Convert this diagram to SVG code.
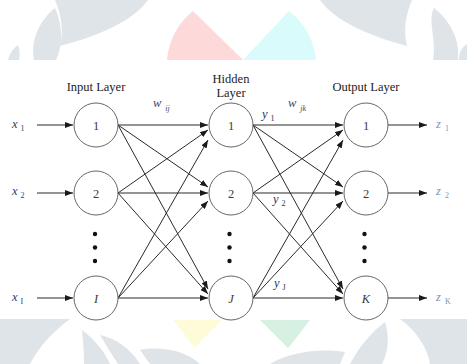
<svg xmlns="http://www.w3.org/2000/svg" width="467" height="364" viewBox="0 0 467 364">
<style>
.wm{fill:#dfe4e9;stroke:none}
.node circle{fill:#fff;stroke:#555;stroke-width:0.9}
.node text{font-family:"Liberation Serif",serif;font-size:12.5px;fill:#3a3a3a;text-anchor:middle}
.title{font-family:"Liberation Serif",serif;font-size:12.5px;fill:#222;text-anchor:middle}
.lbl{font-family:"Liberation Serif",serif;font-size:12.5px;font-style:italic}
.sub{font-size:8px}
.xl{fill:#2f3d6c}
.zl{fill:#7f92b2}
.wl{fill:#3e4665}
.yl{fill:#26335e}
#edges line{stroke:#2a2a2a;stroke-width:1;fill:none}
.arr{marker-end:url(#ah)}
.dot{fill:#111}
</style>
<defs>
<marker id="ah" markerUnits="userSpaceOnUse" markerWidth="8" markerHeight="6" refX="8" refY="3" orient="auto">
<path d="M0,0 L8,3 L0,6 z" fill="#1a1a1a"/>
</marker>
</defs>
<rect width="467" height="364" fill="#fff"/>
<g id="watermark">
<path class="wm" d="M55,0 L148,0 C132,22 98,36 60,46 C64,30 61,14 55,0 Z"/>
<path class="wm" d="M34,60 C30,40 40,20 55,8 C63,26 63,45 56,60 Z"/>
<path class="wm" d="M8,60 C10,52 14,48 18,45 C20,50 20,56 19,60 Z"/>
<path class="wm" d="M412,0 L320,0 C336,22 370,36 407,46 C403,30 406,14 412,0 Z"/>
<path class="wm" d="M433,60 C437,40 427,20 434,8 C452,22 460,42 458,60 Z"/>
<path class="wm" d="M459,60 C459,52 462,47 467,44 L467,60 Z"/>
<path fill="#fdd9d9" d="M243,60 L193,11 A72,72 0 0,0 167,60 Z"/>
<path fill="#d9fbfc" d="M243,60 L289,11 A72,72 0 0,1 316,60 Z"/>
<path class="wm" d="M0,319 L70,319 C55,330 40,345 30,364 L0,364 Z"/>
<path class="wm" d="M82,330 C95,340 105,352 110,364 L84,364 C84,352 83,340 82,330 Z"/>
<path class="wm" d="M100,335 C115,338 130,348 140,364 L118,364 C112,355 106,345 100,335 Z"/>
<path class="wm" d="M140,350 C160,346 185,350 200,364 L150,364 Z"/>
<path class="wm" d="M270,364 C290,352 320,348 345,352 L340,364 Z"/>
<path class="wm" d="M350,364 C360,345 372,332 385,322 C390,338 388,352 382,364 Z"/>
<path class="wm" d="M400,319 L467,319 L467,364 L430,364 C428,350 418,332 400,319 Z"/>
<path fill="#fdfbd8" d="M173,320 L222,320 L194,348 C188,338 180,328 173,320 Z"/>
<path fill="#d6f1e2" d="M260,320 L310,320 C302,330 295,340 288,348 Z"/>
</g>
<rect x="0" y="60" width="467" height="259" fill="#fff"/>
<g id="titles">
<text class="title" x="96" y="91">Input Layer</text>
<text class="title" x="231" y="83">Hidden</text>
<text class="title" x="231" y="97">Layer</text>
<text class="title" x="366" y="91">Output Layer</text>
</g>
<g id="edges">
<line class="arr" x1="37" y1="125" x2="73" y2="125"/>
<line class="arr" x1="37" y1="193" x2="73" y2="193"/>
<line class="arr" x1="37" y1="298" x2="73" y2="298"/>
<line class="arr" x1="118" y1="125" x2="208" y2="125"/>
<line class="arr" x1="118" y1="125" x2="208" y2="187"/>
<line class="arr" x1="118" y1="125" x2="208" y2="289"/>
<line class="arr" x1="118" y1="193" x2="208" y2="130"/>
<line class="arr" x1="118" y1="193" x2="208" y2="193"/>
<line class="arr" x1="118" y1="193" x2="208" y2="294"/>
<line class="arr" x1="118" y1="298" x2="208" y2="140"/>
<line class="arr" x1="118" y1="298" x2="208" y2="201"/>
<line class="arr" x1="118" y1="298" x2="208" y2="298"/>
<line class="arr" x1="253" y1="125" x2="343" y2="125"/>
<line class="arr" x1="253" y1="125" x2="343" y2="187"/>
<line class="arr" x1="253" y1="125" x2="343" y2="289"/>
<line class="arr" x1="253" y1="193" x2="343" y2="130"/>
<line class="arr" x1="253" y1="193" x2="343" y2="193"/>
<line class="arr" x1="253" y1="193" x2="343" y2="294"/>
<line class="arr" x1="253" y1="298" x2="343" y2="140"/>
<line class="arr" x1="253" y1="298" x2="343" y2="201"/>
<line class="arr" x1="253" y1="298" x2="343" y2="298"/>
<line class="arr" x1="388" y1="125" x2="427" y2="125"/>
<line class="arr" x1="388" y1="193" x2="427" y2="193"/>
<line class="arr" x1="388" y1="298" x2="427" y2="298"/>
</g>
<g id="in1" class="node"><circle cx="96" cy="125" r="22"/><text x="96" y="129.5">1</text></g>
<g id="in2" class="node"><circle cx="96" cy="193" r="22"/><text x="96" y="197.5">2</text></g>
<g id="inI" class="node"><circle cx="96" cy="298" r="22"/><text x="96" y="302.5" font-style="italic">I</text></g>
<g id="h1" class="node"><circle cx="231" cy="125" r="22"/><text x="231" y="129.5">1</text></g>
<g id="h2" class="node"><circle cx="231" cy="193" r="22"/><text x="231" y="197.5">2</text></g>
<g id="hJ" class="node"><circle cx="231" cy="298" r="22"/><text x="231" y="302.5" font-style="italic">J</text></g>
<g id="o1" class="node"><circle cx="366" cy="125" r="22"/><text x="366" y="129.5">1</text></g>
<g id="o2" class="node"><circle cx="366" cy="193" r="22"/><text x="366" y="197.5">2</text></g>
<g id="oK" class="node"><circle cx="366" cy="298" r="22"/><text x="366" y="302.5" font-style="italic">K</text></g>
<g id="dots">
<circle class="dot" cx="95" cy="234" r="2.2"/><circle class="dot" cx="95" cy="247.5" r="2.2"/><circle class="dot" cx="95" cy="261" r="2.2"/>
<circle class="dot" cx="229.5" cy="234" r="2.2"/><circle class="dot" cx="229.5" cy="247.5" r="2.2"/><circle class="dot" cx="229.5" cy="261" r="2.2"/>
<circle class="dot" cx="364.5" cy="234" r="2.2"/><circle class="dot" cx="364.5" cy="247.5" r="2.2"/><circle class="dot" cx="364.5" cy="261" r="2.2"/>
</g>
<g id="labels">
<text class="lbl xl" x="12" y="128">x<tspan class="sub" font-style="normal" dx="3" dy="3">1</tspan></text>
<text class="lbl xl" x="12" y="195">x<tspan class="sub" font-style="normal" dx="3" dy="3">2</tspan></text>
<text class="lbl xl" x="12" y="301">x<tspan class="sub" font-style="normal" dx="3" dy="3">I</tspan></text>
<text class="lbl wl" x="153" y="107">w<tspan class="sub" dx="4" dy="4">ij</tspan></text>
<text class="lbl wl" x="288" y="107">w<tspan class="sub" dx="4" dy="4">jk</tspan></text>
<text class="lbl yl" x="262" y="118">y<tspan class="sub" font-style="normal" dx="3" dy="3">1</tspan></text>
<text class="lbl yl" x="273" y="203">y<tspan class="sub" font-style="normal" dx="3" dy="3">2</tspan></text>
<text class="lbl yl" x="274" y="287">y<tspan class="sub" font-style="normal" dx="3" dy="3">J</tspan></text>
<text class="lbl zl" x="436" y="128">z<tspan class="sub" font-style="normal" dx="4" dy="3">1</tspan></text>
<text class="lbl zl" x="436" y="195">z<tspan class="sub" font-style="normal" dx="4" dy="3">2</tspan></text>
<text class="lbl zl" x="436" y="301">z<tspan class="sub" font-style="normal" dx="4" dy="3">K</tspan></text>
</g>
</svg>
